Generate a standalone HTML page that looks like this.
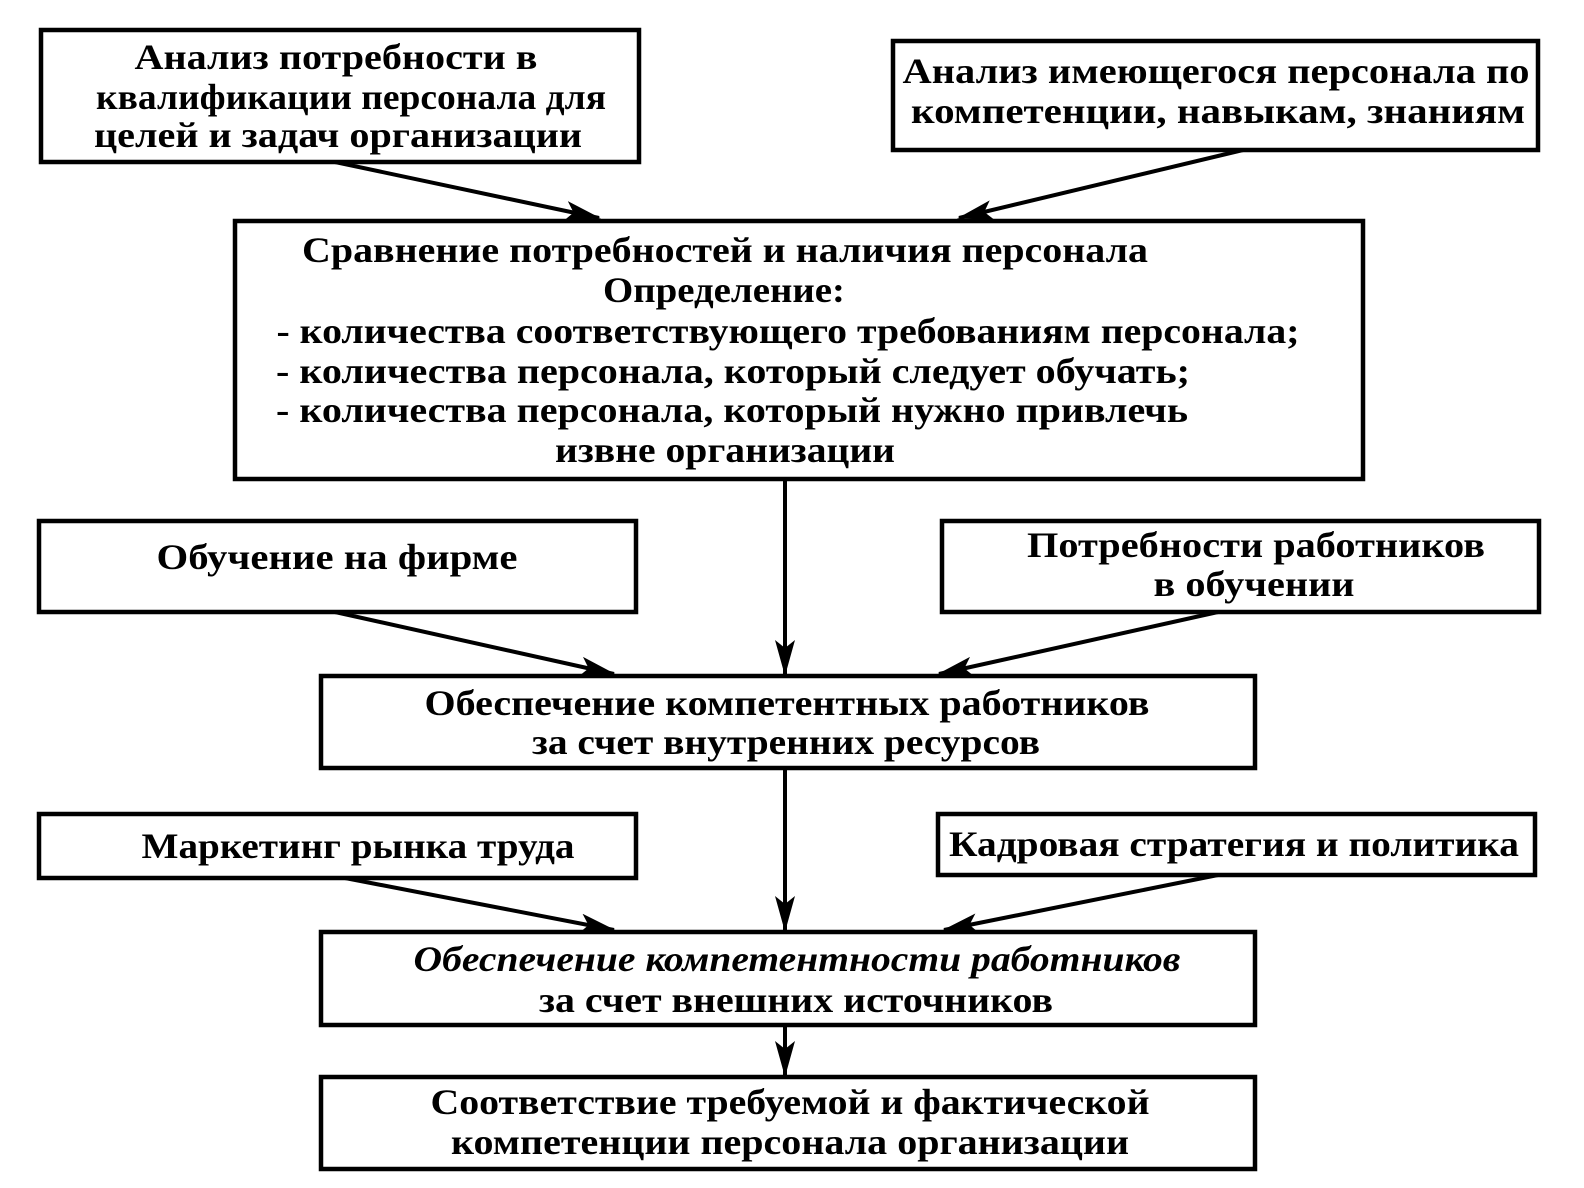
<!DOCTYPE html>
<html><head><meta charset="utf-8"><style>
html,body{margin:0;padding:0;background:#fff;}
svg{display:block;}
text{font-family:"Liberation Serif",serif;font-weight:bold;font-size:36px;fill:#000;}
</style></head><body>
<svg width="1584" height="1188" viewBox="0 0 1584 1188" xmlns="http://www.w3.org/2000/svg">
<defs>
<marker id="b" markerWidth="36" markerHeight="20" refX="34" refY="10" orient="auto" markerUnits="userSpaceOnUse" viewBox="0 0 36 20"><path d="M0,0 L36,10 L0,20 L8,10 z" fill="#000"/></marker></defs>
<g fill="none" stroke="#000" stroke-width="4.5">
<rect x="41" y="30" width="598" height="132"/>
<rect x="893" y="41" width="645" height="109"/>
<rect x="235" y="221" width="1128" height="258"/>
<rect x="39" y="521" width="597" height="91"/>
<rect x="942" y="521" width="597" height="91"/>
<rect x="321" y="676" width="934" height="92"/>
<rect x="39" y="814" width="597" height="64"/>
<rect x="938" y="814" width="597" height="61"/>
<rect x="321" y="932" width="934" height="93"/>
<rect x="321" y="1077" width="934" height="92"/>
</g>
<g stroke="#000" stroke-width="4" marker-end="url(#b)">
<line x1="335" y1="162" x2="599" y2="218"/>
<line x1="1243" y1="150" x2="959" y2="218"/>
<line x1="785" y1="479" x2="785" y2="674"/>
<line x1="335" y1="612" x2="614" y2="674"/>
<line x1="1218" y1="612" x2="939" y2="674"/>
<line x1="785" y1="768" x2="785" y2="930"/>
<line x1="345" y1="878" x2="614" y2="930"/>
<line x1="1218" y1="875" x2="944" y2="930"/>
<line x1="785" y1="1025" x2="785" y2="1075"/>
</g>
<g text-anchor="middle" lengthAdjust="spacingAndGlyphs">
<text x="336" y="69" textLength="403" lengthAdjust="spacingAndGlyphs">Анализ потребности в</text>
<text x="351" y="109" textLength="510" lengthAdjust="spacingAndGlyphs">квалификации персонала для</text>
<text x="338" y="147" textLength="488" lengthAdjust="spacingAndGlyphs">целей и задач организации</text>
<text x="1216" y="83" textLength="627" lengthAdjust="spacingAndGlyphs">Анализ имеющегося персонала по</text>
<text x="1218" y="123" textLength="614" lengthAdjust="spacingAndGlyphs">компетенции, навыкам, знаниям</text>
<text x="725" y="262" textLength="846" lengthAdjust="spacingAndGlyphs">Сравнение потребностей и наличия персонала</text>
<text x="724" y="302" textLength="242" lengthAdjust="spacingAndGlyphs">Определение:</text>
<text x="788" y="343" textLength="1023" lengthAdjust="spacingAndGlyphs">- количества соответствующего требованиям персонала;</text>
<text x="733" y="383" textLength="914" lengthAdjust="spacingAndGlyphs">- количества персонала, который следует обучать;</text>
<text x="732" y="422" textLength="912" lengthAdjust="spacingAndGlyphs">- количества персонала, который нужно привлечь</text>
<text x="725" y="462" textLength="340" lengthAdjust="spacingAndGlyphs">извне организации</text>
<text x="337" y="569" textLength="361" lengthAdjust="spacingAndGlyphs">Обучение на фирме</text>
<text x="1256" y="557" textLength="458" lengthAdjust="spacingAndGlyphs">Потребности работников</text>
<text x="1254" y="596" textLength="201" lengthAdjust="spacingAndGlyphs">в обучении</text>
<text x="787" y="715" textLength="725" lengthAdjust="spacingAndGlyphs">Обеспечение компетентных работников</text>
<text x="786" y="754" textLength="508" lengthAdjust="spacingAndGlyphs">за счет внутренних ресурсов</text>
<text x="358" y="858" textLength="433" lengthAdjust="spacingAndGlyphs">Маркетинг рынка труда</text>
<text x="1234" y="856" textLength="570" lengthAdjust="spacingAndGlyphs">Кадровая стратегия и политика</text>
<text x="797" y="971" textLength="767" lengthAdjust="spacingAndGlyphs" font-style="italic">Обеспечение компетентности работников</text>
<text x="796" y="1012" textLength="514" lengthAdjust="spacingAndGlyphs">за счет внешних источников</text>
<text x="790" y="1114" textLength="719" lengthAdjust="spacingAndGlyphs">Соответствие требуемой и фактической</text>
<text x="790" y="1154" textLength="678" lengthAdjust="spacingAndGlyphs">компетенции персонала организации</text>
</g>
</svg>
</body></html>
